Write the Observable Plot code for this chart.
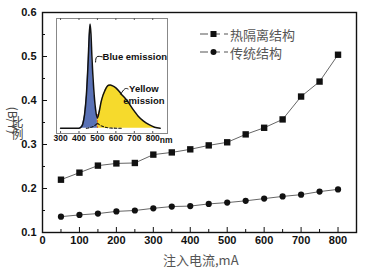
<!DOCTYPE html>
<html><head><meta charset="utf-8">
<script src="https://cdn.jsdelivr.net/npm/d3@7"></script>
<script src="https://cdn.jsdelivr.net/npm/@observablehq/plot@0.6"></script>
<style>
body{margin:0;background:#fff;}
#wrap{position:relative;width:365px;height:268px;overflow:hidden;background:#fff;font-family:"Liberation Sans",Arial,sans-serif;}
#main,#inset{position:absolute;}
#main{left:0;top:0;}
#inset{left:50px;top:14px;}
.cn{font-family:"Noto Sans CJK SC",sans-serif;color:#555;position:absolute;white-space:nowrap;}
#xlab{left:163px;top:250px;font-size:13px;}
.leg{position:absolute;left:200px;display:flex;align-items:center;height:16px;}
.leg span{font-family:"Noto Sans CJK SC",sans-serif;color:#555;font-size:13px;margin-left:2px;}
</style></head><body>
<div id="wrap">
  <div id="main"></div>
  <div id="inset"></div>
  <div class="cn" id="xlab">注入电流,mA</div>
  <div class="leg" style="top:26px"><svg width="28" height="10"><line x1="0" y1="5" x2="28" y2="5" stroke="#555" stroke-width="1.2" stroke-dasharray="8,4"/><rect x="10.5" y="2" width="6" height="6" fill="#111"/></svg><span>热隔离结构</span></div>
  <div class="leg" style="top:44px"><svg width="28" height="10"><line x1="0" y1="5" x2="28" y2="5" stroke="#555" stroke-width="1.2" stroke-dasharray="8,4"/><circle cx="13.5" cy="5" r="3" fill="#111"/></svg><span>传统结构</span></div>
</div>
<script>
// Main chart data
const current = [50,100,150,200,250,300,350,400,450,500,550,600,650,700,750,800];
const heatIsolated = [0.220,0.236,0.252,0.257,0.258,0.277,0.282,0.289,0.298,0.305,0.323,0.338,0.357,0.409,0.443,0.504];
const conventional = [0.136,0.140,0.143,0.148,0.150,0.155,0.159,0.160,0.165,0.168,0.172,0.177,0.182,0.186,0.193,0.198];
const xTicks = [0,100,200,300,400,500,600,700,800];
const xMinor = [50,150,250,350,450,550,650,750];
const yTicks = [0.1,0.2,0.3,0.4,0.5,0.6];
const yMinor = [0.15,0.25,0.35,0.45,0.55];
const yLabelParts = [{text:"(B/Y)", rotate:90, y:0.386}, {text:"比", rotate:0, y:0.348}, {text:"例", rotate:0, y:0.322}];

// Inset spectrum data
const wavelength = [300,400,410,420,430,440,450,455,460,465,470,480,490,500,510,520,530,540,550,560,570,580,600,630,660,690,720,750,780,810,840];
const blueEm   = [0,0,0.01,0.04,0.13,0.32,0.66,0.88,1.0,0.9,0.68,0.36,0.15,0.05,0.035,0.025,0.018,0.012,0.008,0.005,0.003,0.002,0.001,0,0,0,0,0,0,0,0];
const yellowEm = [0,0,0,0,0,0,0.003,0.005,0.007,0.01,0.013,0.02,0.033,0.05,0.13,0.23,0.3,0.35,0.39,0.41,0.415,0.41,0.39,0.33,0.27,0.19,0.12,0.07,0.035,0.01,0];
const totalEm  = [0,0,0.01,0.04,0.13,0.32,0.663,0.885,1.007,0.91,0.693,0.38,0.183,0.1,0.165,0.255,0.318,0.362,0.398,0.415,0.418,0.412,0.391,0.33,0.27,0.19,0.12,0.07,0.035,0.01,0];
const insetTicks = [300,400,500,600,700,800];
const blueLabel = [{x:528, y:0.69, text:"Blue emission"}];
const yellowLabel = [{x:752, y:0.38, text:"Yellow"},{x:752, y:0.265, text:"emission"}];
const leaderBlue = [{x:490,y:0.64},{x:497,y:0.69},{x:526,y:0.69}];
const leaderYellow = [{x:626,y:0.33},{x:648,y:0.38},{x:666,y:0.38}];

const mainData = current.flatMap((c,i)=>[
  {current:c, ratio:heatIsolated[i], series:"热隔离结构"},
  {current:c, ratio:conventional[i], series:"传统结构"}
]);

const main = Plot.plot({
  width:365, height:268,
  marginLeft:42, marginRight:9, marginTop:12, marginBottom:36,
  x:{domain:[0,850]},
  y:{domain:[0.1,0.6]},
  style:{fontFamily:"Liberation Sans, Arial, sans-serif", fontSize:"11px", fontWeight:"bold", color:"#111", overflow:"visible"},
  marks:[
    Plot.frame({stroke:"#111", strokeWidth:1.4}),
    Plot.tickY(yTicks, {y:d=>d, insetRight:314-5, stroke:"#111"}),
    Plot.tickY(yMinor, {y:d=>d, insetRight:314-3, stroke:"#111"}),
    Plot.tickX(xTicks, {x:d=>d, insetTop:220-5, stroke:"#111"}),
    Plot.tickX(xMinor, {x:d=>d, insetTop:220-3, stroke:"#111"}),
    Plot.axisY({ticks:yTicks, tickSize:0, tickPadding:6, tickFormat:d3.format(".1f"), label:null}),
    Plot.axisX({ticks:xTicks, tickSize:0, tickPadding:4, tickFormat:d=>String(d), label:null}),
    Plot.text(yLabelParts, {y:"y", text:"text", rotate:"rotate", frameAnchor:"left", dx:-31, fontFamily:"Noto Sans CJK SC", fontWeight:"normal", fontSize:12, fill:"#444"}),
    Plot.line(mainData, {x:"current", y:"ratio", z:"series", stroke:"#666", strokeWidth:1}),
    Plot.dot(mainData.filter(d=>d.series==="热隔离结构"), {x:"current", y:"ratio", symbol:"square", r:3.6, fill:"#111", stroke:null}),
    Plot.dot(mainData.filter(d=>d.series==="传统结构"), {x:"current", y:"ratio", symbol:"circle", r:3.1, fill:"#111", stroke:null})
  ]
});
document.getElementById("main").append(main);

const spec = wavelength.map((w,i)=>({w, blue:blueEm[i], yellow:yellowEm[i], total:totalEm[i]}));

const inset = Plot.plot({
  width:124, height:132,
  marginLeft:6, marginRight:7, marginTop:4, marginBottom:13,
  x:{domain:[278,880]},
  y:{domain:[-0.05,1.06], axis:null},
  style:{fontFamily:"Liberation Sans, Arial, sans-serif", fontSize:"8.5px", fontWeight:"bold", color:"#111", background:"transparent", overflow:"visible"},
  marks:[
    Plot.frame({fill:"#fff", stroke:"#888", strokeWidth:1}),
    Plot.areaY(spec.filter(d=>d.w>=400 && d.w<=500), {x:"w", y1:0, y2:"total", fill:"#5a72b6"}),
    Plot.areaY(spec.filter(d=>d.w>=500 && d.w<=840), {x:"w", y1:0, y2:"total", fill:"#f6da2c"}),
    Plot.ruleX([500], {y1:0, y2:0.13, stroke:"#d9481f", strokeWidth:1.2, strokeDasharray:"1.5,1.5"}),
    Plot.line(spec.filter(d=>d.w>=500 && d.w<=630), {x:"w", y:"blue", stroke:"#111", strokeWidth:1.1, strokeDasharray:"2.5,2"}),
    Plot.line(spec.filter(d=>d.w>=440 && d.w<=500), {x:"w", y:"yellow", stroke:"#111", strokeWidth:1.1, strokeDasharray:"2.5,2"}),
    Plot.line(spec, {x:"w", y:"total", stroke:"#111", strokeWidth:1.5, curve:"monotone-x"}),
    Plot.tickX(insetTicks, {x:d=>d, insetBottom:115-2, stroke:"#555"}),
    Plot.tickX(insetTicks, {x:d=>d, insetTop:115-2, stroke:"#555"}),
    Plot.axisX({ticks:insetTicks, tickSize:0, tickPadding:1, tickFormat:d=>String(d), label:null}),
    Plot.text(["nm"], {x:800, frameAnchor:"bottom", dx:7, dy:9, textAnchor:"start"}),
    Plot.line(leaderBlue, {x:"x", y:"y", stroke:"#111", strokeWidth:1, curve:"natural"}),
    Plot.line(leaderYellow, {x:"x", y:"y", stroke:"#111", strokeWidth:1, curve:"natural"}),
    Plot.text(blueLabel, {x:"x", y:"y", text:"text", textAnchor:"start", fontSize:9.5, fontWeight:"bold", fill:"#111"}),
    Plot.text(yellowLabel, {x:"x", y:"y", text:"text", textAnchor:"middle", fontSize:9.5, fontWeight:"bold", fill:"#111"})
  ]
});
document.getElementById("inset").append(inset);
</script>
</body></html>
